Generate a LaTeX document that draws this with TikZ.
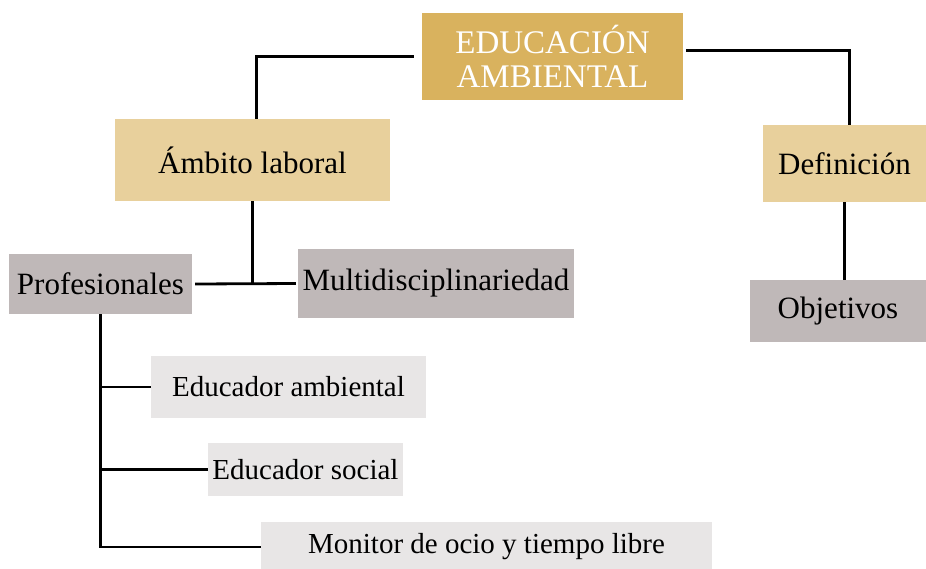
\documentclass[tikz,border=0pt]{standalone}
\usepackage{fontspec}
\setmainfont{Liberation Serif}
\usepackage[HTML]{xcolor}
\usepackage{tikz}
\usetikzlibrary{positioning, arrows, arrows.meta}

\definecolor{gold}{HTML}{D9B25E}
\definecolor{sand}{HTML}{E8D09C}
\definecolor{stone}{HTML}{BFB8B8}
\definecolor{mist}{HTML}{E8E6E6}

\begin{document}
\begin{tikzpicture}[x=1pt,y=-1pt,
  box/.style={inner sep=0pt, align=center, font=\fontsize{31}{35}\selectfont},
  link/.style={line width=2.8pt, black}]
\useasboundingbox (0,0) rectangle (926,568);

% top levels
\node[box, fill=gold, text=white, minimum width=261pt, minimum height=87pt,
  font=\fontsize{33}{34}\selectfont] (edu) at (552.5,56.5) {EDUCACIÓN\\AMBIENTAL};
\node[box, fill=sand, minimum width=275pt, minimum height=82pt] (ambito) at (252.5,160) {Ámbito laboral};
\node[box, fill=sand, minimum width=163pt, minimum height=77pt] (defin) at (844.5,163.5) {Definición};

% second level
\node[box, fill=stone, minimum width=183pt, minimum height=60pt] (prof) at (100.5,284) {Profesionales};
\node[box, fill=stone, minimum width=276pt, minimum height=69pt] (multi) at (436,283.5) {Multidisciplinariedad};
\node[box, fill=stone, minimum width=176pt, minimum height=62pt] (objet) at (838,311) {Objetivos};

% professions
\node[box, fill=mist, minimum width=275pt, minimum height=62pt, font=\fontsize{29}{33}\selectfont] (edamb) at (288.5,387) {Educador ambiental};
\node[box, fill=mist, minimum width=195pt, minimum height=53pt, font=\fontsize{29}{33}\selectfont] (edsoc) at (305.5,469.5) {Educador social};
\node[box, fill=mist, minimum width=451pt, minimum height=50pt, font=\fontsize{29}{33}\selectfont] (monitor) at (486.5,547) {Monitor de ocio y tiempo libre};

% connectors
\draw[link] ([xshift=-8pt]edu.west) -| ([xshift=4pt]ambito.north);
\draw[link] ([xshift=3pt,yshift=6pt]edu.east) -| ([xshift=5pt]defin.north);
\draw[link] (ambito.south) -- (ambito.south |- prof.east);
\draw[link] ([xshift=3pt]prof.east) -- ([xshift=-2pt]multi.west);
\draw[link] (defin.south) -- (defin.south |- objet.north);
\draw[link] (prof.south) |- (edamb.west);
\draw[link] (prof.south) |- (edsoc.west);
\draw[link] (prof.south) |- (monitor.west);
\end{tikzpicture}
\end{document}
